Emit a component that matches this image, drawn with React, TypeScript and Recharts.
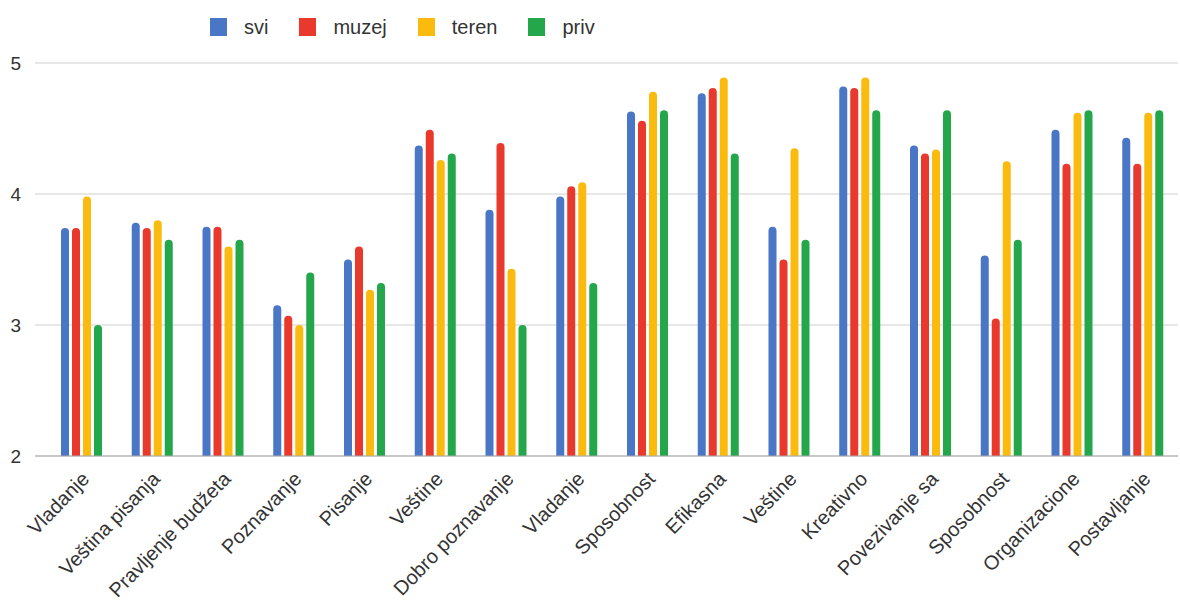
import {
  BarChart,
  Bar,
  XAxis,
  YAxis,
  CartesianGrid,
  Legend,
} from "recharts";

const categories = [
  "Vladanje",
  "Veština pisanja",
  "Pravljenje budžeta",
  "Poznavanje",
  "Pisanje",
  "Veštine",
  "Dobro poznavanje",
  "Vladanje",
  "Sposobnost",
  "Efikasna",
  "Veštine",
  "Kreativno",
  "Povezivanje sa",
  "Sposobnost",
  "Organizacione",
  "Postavljanje",
];

const svi = [3.74, 3.78, 3.75, 3.15, 3.5, 4.37, 3.88, 3.98, 4.63, 4.77, 3.75, 4.82, 4.37, 3.53, 4.49, 4.43];
const muzej = [3.74, 3.74, 3.75, 3.07, 3.6, 4.49, 4.39, 4.06, 4.56, 4.81, 3.5, 4.81, 4.31, 3.05, 4.23, 4.23];
const teren = [3.98, 3.8, 3.6, 3.0, 3.27, 4.26, 3.43, 4.09, 4.78, 4.89, 4.35, 4.89, 4.34, 4.25, 4.62, 4.62];
const priv = [3.0, 3.65, 3.65, 3.4, 3.32, 4.31, 3.0, 3.32, 4.64, 4.31, 3.65, 4.64, 4.64, 3.65, 4.64, 4.64];

const yTicks = [2, 3, 4, 5];

const series = [
  { key: "svi", color: "#4a76c6" },
  { key: "muzej", color: "#e9392d" },
  { key: "teren", color: "#fbbb0e" },
  { key: "priv", color: "#23a74a" },
];

const data = categories.map((name, i) => ({
  name,
  svi: svi[i],
  muzej: muzej[i],
  teren: teren[i],
  priv: priv[i],
}));

const FONT = "Arial, 'Liberation Sans', sans-serif";

const XTick = (props: any) => {
  const { x, y, payload } = props;
  return (
    <g transform={`translate(${x + 9},${y + 16})`}>
      <text
        textAnchor="end"
        transform="rotate(-46)"
        fontSize={20}
        fontFamily={FONT}
        fill="#333"
      >
        {payload.value}
      </text>
    </g>
  );
};

const LegendBox = () => (
  <div
    style={{
      display: "flex",
      alignItems: "center",
      height: 30,
      fontFamily: FONT,
      fontSize: 20,
      color: "#333",
    }}
  >
    {series.map((s) => (
      <div key={s.key} style={{ display: "flex", alignItems: "center", marginRight: 31 }}>
        <span
          style={{
            display: "inline-block",
            width: 17,
            height: 18,
            background: s.color,
            marginRight: 17,
          }}
        />
        <span>{s.key}</span>
      </div>
    ))}
  </div>
);

export default function App() {
  return (
    <div style={{ position: "absolute", left: 0, top: 0, background: "#fff" }}>
      <BarChart
        width={1180}
        height={607}
        data={data}
        margin={{ top: 33, right: 2, bottom: 0, left: 0 }}
        barSize={8}
        barGap={3}
      >
        <CartesianGrid vertical={false} stroke="#cfcfcf" />
        <XAxis
          dataKey="name"
          interval={0}
          height={151}
          padding={{ left: 11, right: 0 }}
          tickLine={false}
          axisLine={{ stroke: "#a8a8a8" }}
          tick={<XTick />}
        />
        <YAxis
          domain={[2, 5]}
          ticks={yTicks}
          width={35}
          axisLine={false}
          tickLine={false}
          tickSize={0}
          tickMargin={14}
          tick={{ fontSize: 19, fontFamily: FONT, fill: "#333" }}
          allowDataOverflow
        />
        <Legend
          verticalAlign="top"
          content={<LegendBox />}
          wrapperStyle={{ top: 12, left: 210, width: "auto" }}
        />
        {series.map((s) => (
          <Bar
            key={s.key}
            dataKey={s.key}
            fill={s.color}
            radius={[4, 4, 0, 0]}
            isAnimationActive={false}
          />
        ))}
      </BarChart>
    </div>
  );
}
